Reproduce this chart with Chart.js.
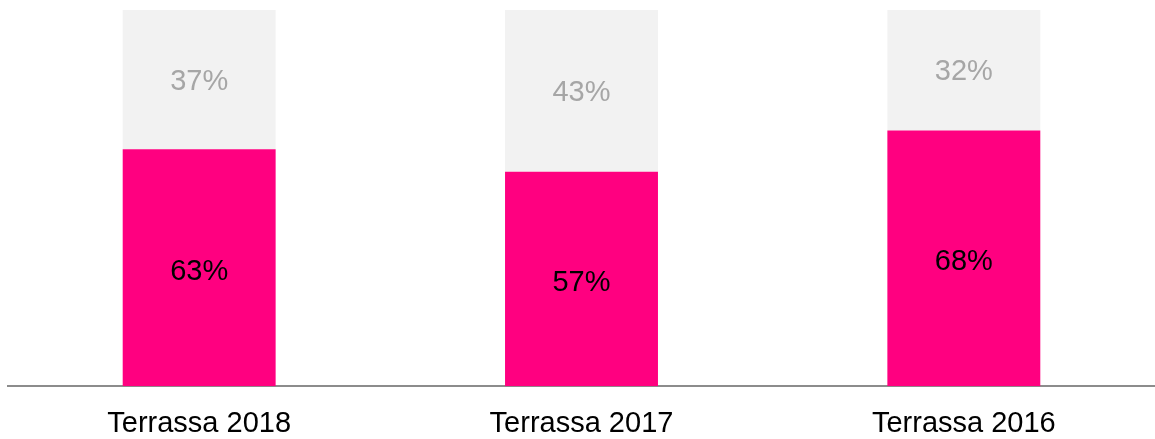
<!DOCTYPE html>
<html>
<head>
<meta charset="utf-8">
<script src="https://cdn.jsdelivr.net/npm/chart.js@4"></script>
<style>
  body { margin: 0; background: #fff; }
  #wrap { width: 1155px; height: 439px; position: relative; }
</style>
</head>
<body>
<div id="wrap"><canvas id="chart"></canvas></div>
<script>
// data
const categories = ['Terrassa 2018', 'Terrassa 2017', 'Terrassa 2016'];
const yesValues = [63, 57, 68];
const restValues = [37, 43, 32];

// draws the % inside each bar segment
const segmentLabels = {
  id: 'segmentLabels',
  afterDatasetsDraw(chart) {
    const ctx = chart.ctx;
    ctx.save();
    ctx.font = '29px "Liberation Sans", Arial, sans-serif';
    ctx.textAlign = 'center';
    ctx.textBaseline = 'middle';
    chart.data.datasets.forEach((ds, i) => {
      const meta = chart.getDatasetMeta(i);
      meta.data.forEach((bar, j) => {
        const mid = (bar.y + bar.base) / 2;
        ctx.fillStyle = ds.labelColor;
        ctx.fillText(ds.data[j] + '%', bar.x, mid + ds.labelShift);
      });
    });
    ctx.restore();
  }
};

const ctx = document.getElementById('chart').getContext('2d');
new Chart(ctx, {
  type: 'bar',
  data: {
    labels: categories,
    datasets: [
      {
        data: yesValues,
        backgroundColor: '#FF0080',
        labelColor: '#000000',
        labelShift: 4,
        barPercentage: 0.4,
        categoryPercentage: 1
      },
      {
        data: restValues,
        backgroundColor: '#F2F2F2',
        labelColor: '#A6A6A6',
        labelShift: 2,
        barPercentage: 0.4,
        categoryPercentage: 1
      }
    ]
  },
  options: {
    responsive: true,
    maintainAspectRatio: false,
    animation: false,
    layout: { padding: { left: 8, right: -3, top: 10, bottom: -22 } },
    plugins: {
      legend: { display: false },
      tooltip: { enabled: false }
    },
    scales: {
      x: {
        stacked: true,
        grid: { display: false, drawTicks: false },
        border: { display: true, color: '#8C8C8C', width: 2 },
        ticks: {
          color: '#000000',
          padding: 20,
          font: { family: '"Liberation Sans", Arial, sans-serif', size: 29 }
        }
      },
      y: {
        stacked: true,
        display: false,
        min: 0,
        max: 100
      }
    }
  },
  plugins: [segmentLabels]
});
</script>
</body>
</html>
